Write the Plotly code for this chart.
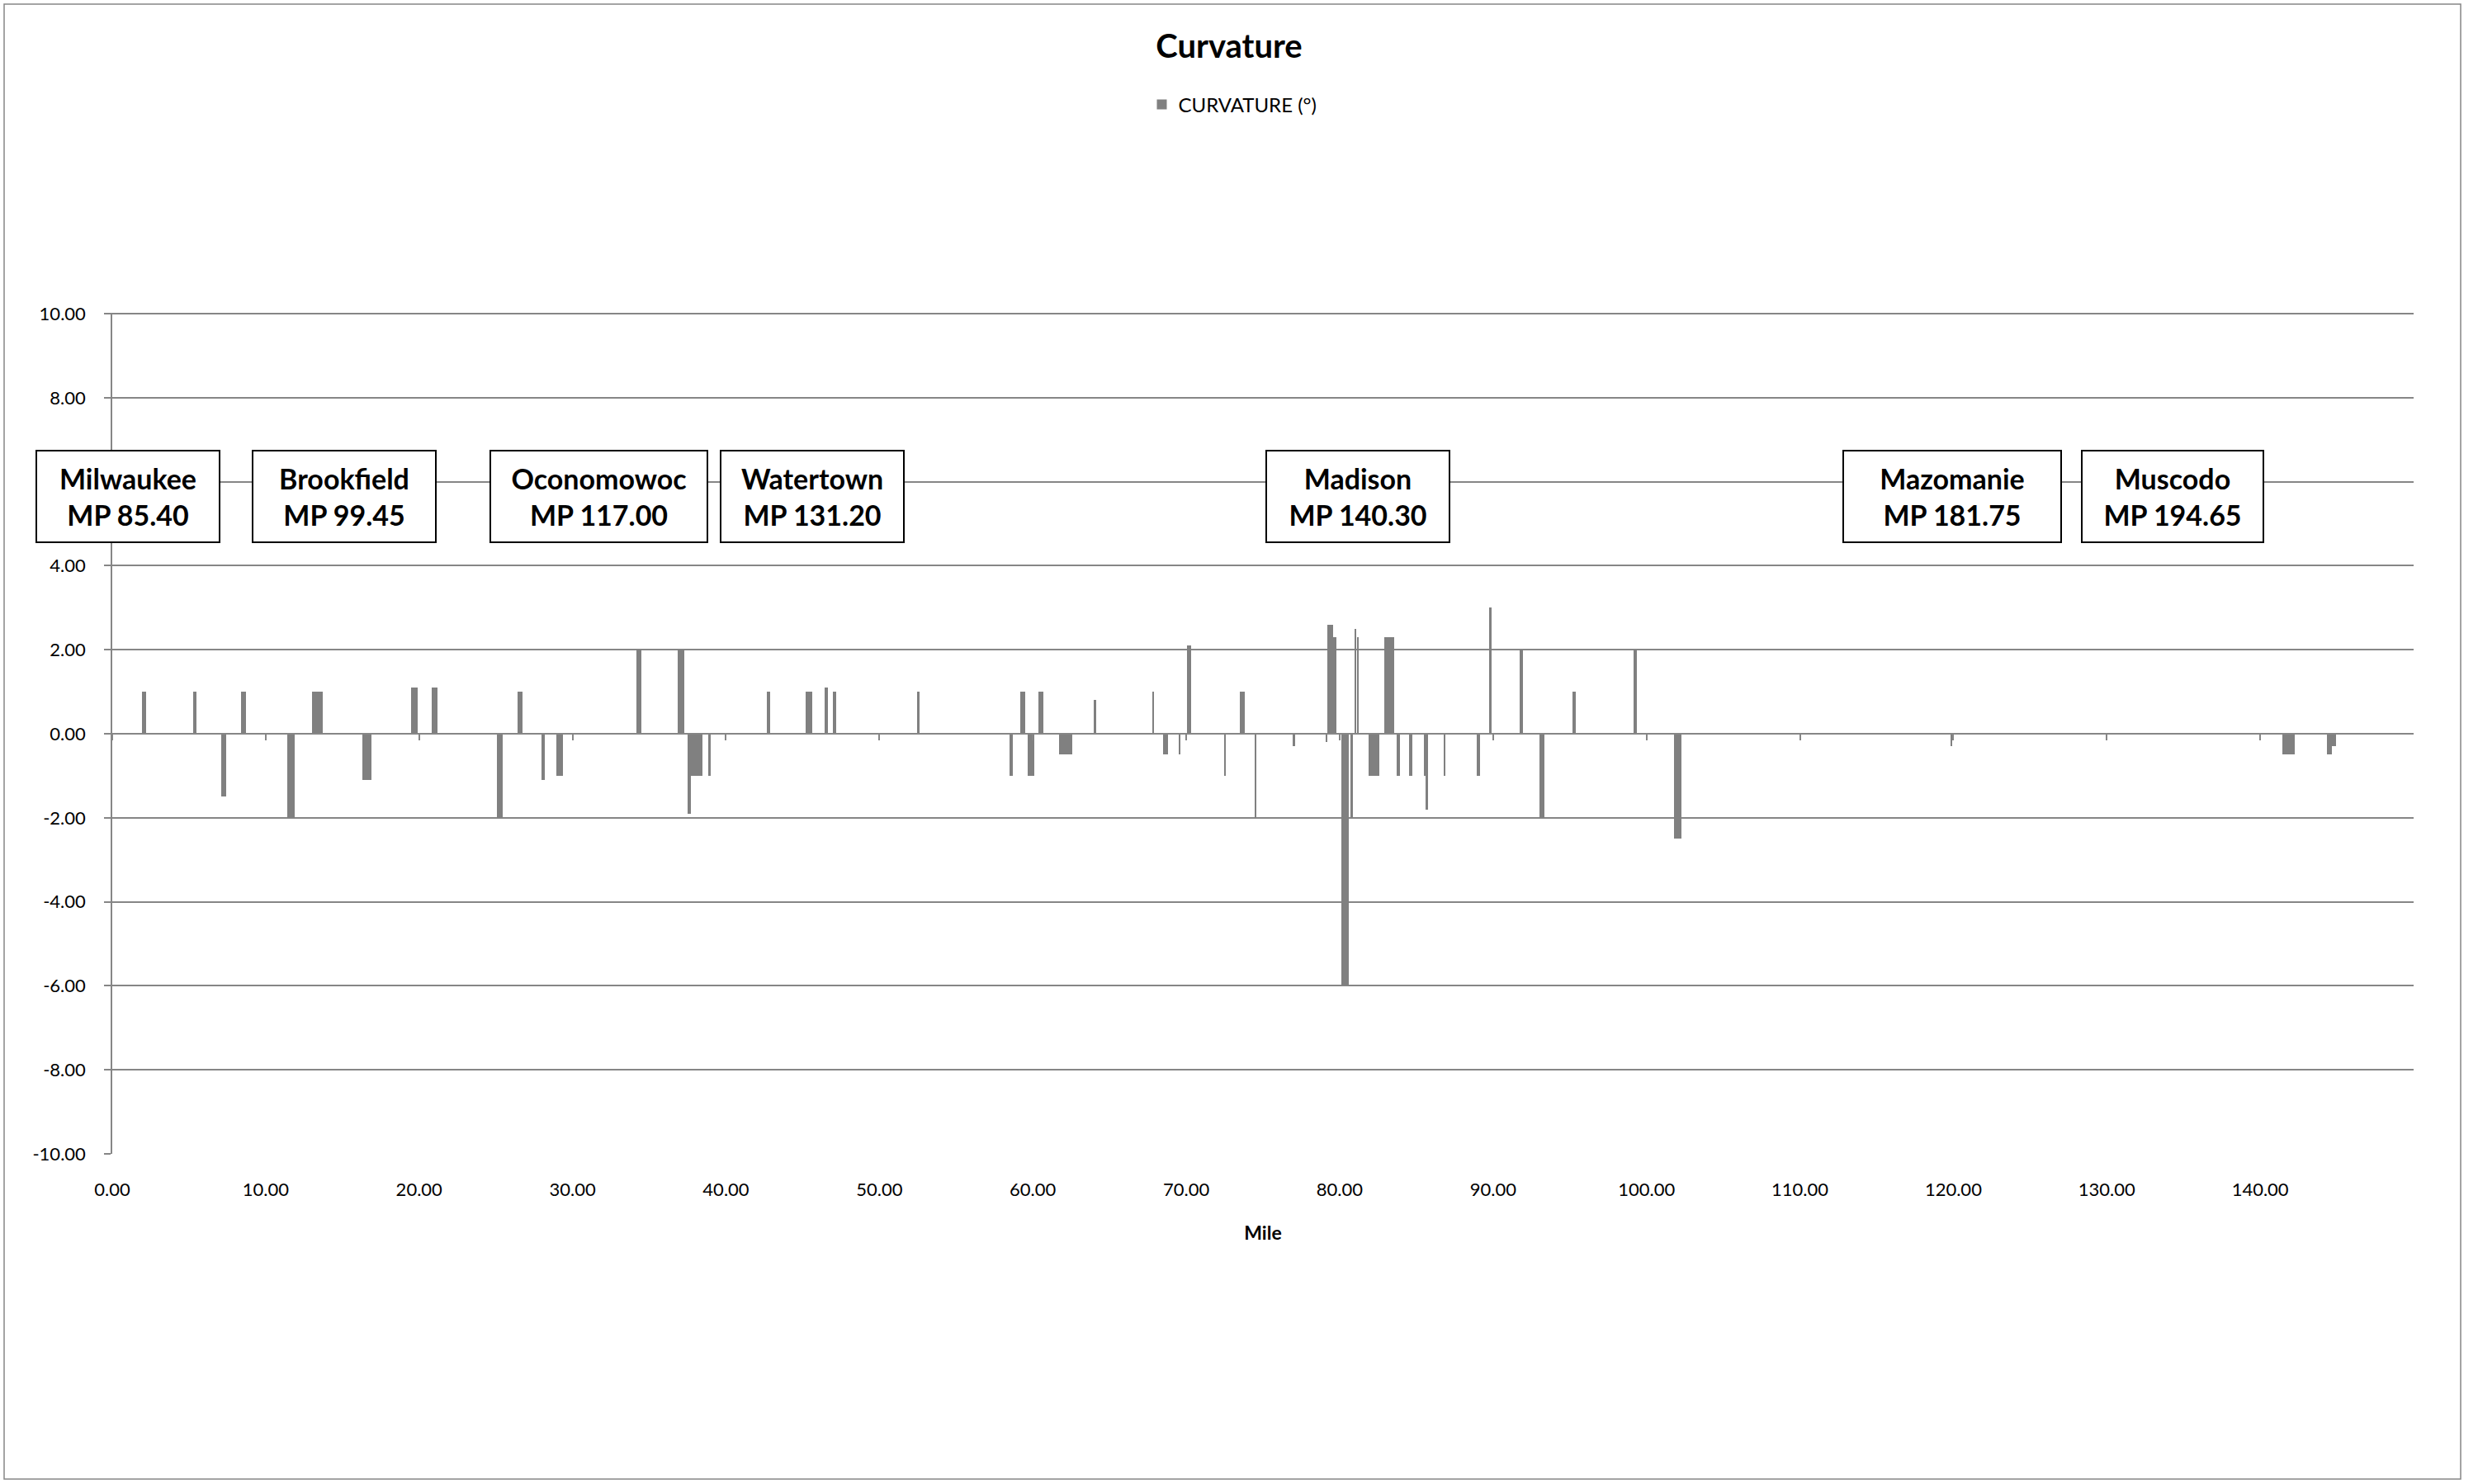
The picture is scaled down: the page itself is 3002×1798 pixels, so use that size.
import plotly.graph_objects as go

# ---- data (miles along the route, curvature in degrees) ----
seg_start = [1.92, 5.29, 7.08, 8.39, 11.38, 13.00, 16.28, 19.49, 20.80, 25.07,
             26.44, 27.99, 28.97, 34.19, 36.85, 37.49, 37.74, 38.82, 42.64, 45.18,
             46.42, 46.99, 52.50, 58.47, 59.19, 59.69, 60.39, 61.70, 63.99, 67.79,
             68.51, 69.50, 70.05, 72.49, 73.48, 74.50, 76.98, 79.07, 79.21, 79.59,
             80.11, 80.71, 80.99, 81.12, 81.87, 82.93, 83.72, 84.54, 85.47, 85.60,
             86.77, 88.92, 89.73, 91.75, 93.01, 95.16, 99.14, 101.77, 119.80, 141.45,
             144.34, 144.70]
seg_end = [2.21, 5.50, 7.44, 8.69, 11.89, 13.70, 16.87, 19.88, 21.19, 25.46,
           26.73, 28.20, 29.40, 34.46, 37.26, 37.74, 38.48, 39.00, 42.90, 45.65,
           46.62, 47.21, 52.60, 58.69, 59.49, 60.10, 60.71, 62.59, 64.12, 67.90,
           68.80, 69.61, 70.31, 72.60, 73.80, 74.59, 77.08, 79.18, 79.59, 79.81,
           80.61, 80.88, 81.06, 81.23, 82.57, 83.54, 83.92, 84.72, 85.60, 85.76,
           86.88, 89.14, 89.92, 91.96, 93.36, 95.40, 99.39, 102.28, 119.95, 142.23,
           144.70, 144.96]
curvature = [1.0, 1.0, -1.5, 1.0, -2.0, 1.0, -1.1, 1.1, 1.1, -2.0,
             1.0, -1.1, -1.0, 2.0, 2.0, -1.9, -1.0, -1.0, 1.0, 1.0,
             1.1, 1.0, 1.0, -1.0, 1.0, -1.0, 1.0, -0.5, 0.8, 1.0,
             -0.5, -0.5, 2.1, -1.0, 1.0, -2.0, -0.3, -0.2, 2.6, 2.3,
             -6.0, -2.0, 2.5, 2.3, -1.0, 2.3, -1.0, -1.0, -1.0, -1.8,
             -1.0, -1.0, 3.0, 2.0, -2.0, 1.0, 2.0, -2.5, -0.3, -0.5,
             -0.5, -0.3]

station_names = ["Milwaukee", "Brookfield", "Oconomowoc", "Watertown",
                 "Madison", "Mazomanie", "Muscodo"]
station_mp = [85.40, 99.45, 117.00, 131.20, 140.30, 181.75, 194.65]

x_tick_vals = [0, 10, 20, 30, 40, 50, 60, 70, 80, 90, 100, 110, 120, 130, 140]
y_tick_vals = [-10, -8, -6, -4, -2, 0, 2, 4, 6, 8, 10]
# the 6.00 label sits hidden behind the Milwaukee box in the original
y_tick_text = ["-10.00", "-8.00", "-6.00", "-4.00", "-2.00", "0.00",
               "2.00", "4.00", "", "8.00", "10.00"]

# ---- layout constants (positions / styles) ----
W, H = 3002, 1798
ML, MR, MT, MB = 136, 78, 379, 400
PW = W - ML - MR
PH = H - MT - MB
FONT = "Lato"
GRID = "#868686"
BAR = "#808080"

label_x = [1.04, 15.1, 31.7, 45.6, 81.2, 119.9, 134.3]
label_w = [212, 212, 253, 212, 212, 254, 210]

widths = [e - s for s, e in zip(seg_start, seg_end)]

fig = go.Figure()
fig.add_trace(go.Bar(
    x=seg_start, y=curvature, width=widths, offset=0,
    marker=dict(color=BAR, line=dict(width=0)),
    name="CURVATURE (°)", showlegend=True,
))
fig.add_trace(go.Scatter(x=[], y=[], xaxis="x2", yaxis="y",
                         showlegend=False, hoverinfo="skip"))


def px_x(px):
    return (px - ML) / PW


def px_y(py):
    return (H - MB - py) / PH


fig.update_layout(
    width=W, height=H,
    margin=dict(l=ML, r=MR, t=MT, b=MB, pad=0),
    paper_bgcolor="white", plot_bgcolor="white",
    font=dict(family=FONT, color="#000000", size=22),
    title=dict(text="<b>Curvature</b>", font=dict(family=FONT, size=40, color="#000000"),
               x=1489 / W, xref="container", xanchor="center",
               y=1 - 56 / H, yref="container", yanchor="middle"),
    showlegend=True,
    legend=dict(orientation="h", x=px_x(1494), xanchor="center",
                y=px_y(127), yanchor="middle",
                font=dict(family=FONT, size=24, color="#000000"),
                bgcolor="rgba(0,0,0,0)", itemwidth=30),
    bargap=0,
    xaxis=dict(range=[0, 150], tickvals=x_tick_vals, tickformat=".2f",
               showgrid=False, zeroline=False, showline=False,
               ticks="", ticklabelstandoff=28,
               tickfont=dict(family=FONT, size=22, color="#000000"),
               title=dict(text="<b>Mile</b>", font=dict(family=FONT, size=23, color="#000000"),
                          standoff=32)),
    xaxis2=dict(range=[0, 150], matches="x", overlaying="x", anchor="free",
                position=0.5, side="bottom", tickvals=x_tick_vals,
                showticklabels=False, showgrid=False, zeroline=False,
                showline=True, linecolor=GRID, linewidth=1.5,
                ticks="outside", ticklen=8, tickwidth=1.5, tickcolor=GRID),
    yaxis=dict(range=[-10, 10.02], tickvals=y_tick_vals, ticktext=y_tick_text,
               showgrid=True, gridcolor=GRID, gridwidth=1.5,
               zeroline=False, showline=True, linecolor=GRID, linewidth=1.5,
               ticks="outside", ticklen=8, tickwidth=1.5, tickcolor=GRID,
               ticklabelstandoff=18,
               tickfont=dict(family=FONT, size=22, color="#000000")),
)

# station label boxes
for name, mp, lx, lw in zip(station_names, station_mp, label_x, label_w):
    fig.add_annotation(
        x=lx, y=5.65, xref="x", yref="y",
        text=f"<b>{name}<br>MP {mp:.2f}</b>",
        showarrow=False, align="center",
        font=dict(family=FONT, size=34, color="#000000"),
        bgcolor="white", bordercolor="#000000", borderwidth=2, borderpad=4,
        width=lw, height=101, valign="middle",
    )

# chart-area border
fig.add_shape(type="rect", xref="paper", yref="paper",
              x0=px_x(5), x1=px_x(2981), y0=px_y(1792), y1=px_y(5),
              line=dict(color=GRID, width=1.5), fillcolor="rgba(0,0,0,0)", layer="below")

fig.write_html("out.html", config={"displayModeBar": False},
               post_script="document.body.style.margin='0';document.body.style.overflow='hidden';")
